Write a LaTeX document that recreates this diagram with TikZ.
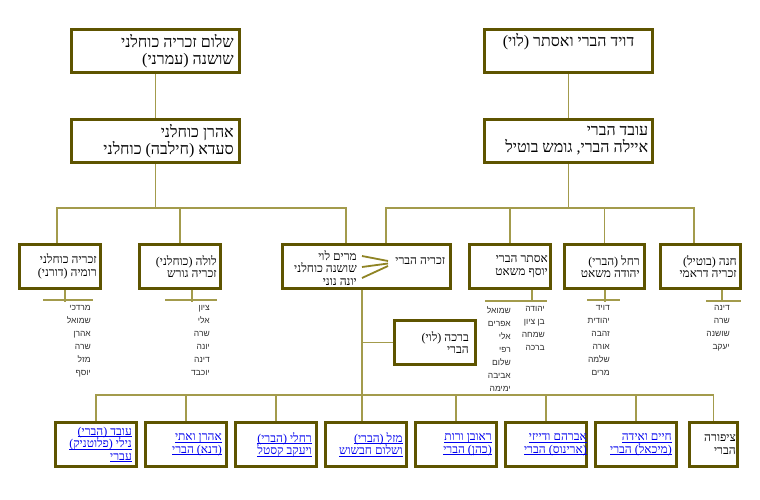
\documentclass[tikz,border=0pt]{standalone}
\usepackage{fontspec}
\newfontfamily\hebf[Script=Hebrew]{Liberation Serif}
\newfontfamily\hebs[Script=Hebrew]{Liberation Sans}
\TeXXeTstate=1
\usetikzlibrary{calc}
\definecolor{boxc}{HTML}{5E5400}
\definecolor{conc}{HTML}{A39B4C}
\definecolor{fanc}{HTML}{8F8424}
\definecolor{lnk}{HTML}{0000EE}
\definecolor{kidc}{HTML}{303030}
\newcommand{\heb}[1]{\beginR #1\endR}
\newcommand{\lk}[1]{\setbox0\hbox{\beginR #1\endR}\rlap{\rule[-1.8pt]{\wd0}{0.6pt}}\box0}
\begin{document}
\begin{tikzpicture}[x=1pt,y=-1pt,
  bx/.style 2 args={draw=boxc, line width=3pt, fill=white, inner sep=0pt, minimum width=#1, minimum height=#2},
  txt/.style={font=\hebf\fontsize{16}{17}\selectfont, align=right, inner sep=0pt, anchor=east},
  mid/.style={font=\hebf\fontsize{12}{12.5}\selectfont, align=right, inner sep=0pt, anchor=east},
  link/.style={mid, text=lnk},
  kids/.style={font=\hebs\fontsize{8.5}{13}\selectfont, text=kidc, align=right, inner sep=0pt, anchor=north east},
  con/.style={draw=conc, line width=1.6pt},
  fan/.style={draw=fanc, line width=1.8pt}]
\fill[white] (0,0) rectangle (760,500);
\useasboundingbox (0,0) rectangle (760,500);

% coordinates of buses
\coordinate (lb1) at (57,208);
\coordinate (lb2) at (346,208);
\coordinate (rb1) at (386,208);
\coordinate (rb2) at (694,208);
\coordinate (vb) at (362,395);
\coordinate (bb1) at (96,395);
\coordinate (bb2) at (713.5,395);

% top generation boxes
\node[bx={168pt}{43pt}] (A) at (155.5,51) {};
\node[bx={168pt}{43pt}] (B) at (568.5,51) {};
\node[bx={168pt}{43pt}] (C) at (155.5,141) {};
\node[bx={168pt}{43pt}] (D) at (568.5,141) {};

% third generation boxes
\node[bx={81pt}{44pt}] (E) at (60,266.5) {};
\node[bx={81pt}{44pt}] (F) at (180,266.5) {};
\node[bx={168pt}{44pt}] (G) at (366.5,266.5) {};
\node[bx={81pt}{44pt}] (H) at (510,266.5) {};
\node[bx={80pt}{44pt}] (I) at (604.5,266.5) {};
\node[bx={80pt}{44pt}] (J) at (700.5,266.5) {};
\node[bx={81pt}{44pt}] (K) at (435,342.5) {};

% bottom generation boxes
\node[bx={81pt}{44pt}] (L1) at (96,444.5) {};
\node[bx={81pt}{44pt}] (L2) at (186,444.5) {};
\node[bx={81pt}{44pt}] (L3) at (276,444.5) {};
\node[bx={81pt}{44pt}] (L4) at (366,444.5) {};
\node[bx={81pt}{44pt}] (L5) at (456,444.5) {};
\node[bx={81pt}{44pt}] (L6) at (546,444.5) {};
\node[bx={81pt}{44pt}] (L7) at (636,444.5) {};
\node[bx={48pt}{44pt}] (L8) at (713.5,444.5) {};

% connectors
\draw[con] (A.south) -- (C.north);
\draw[con] (B.south) -- (D.north);
\draw[con] (C.south) -- (C.south |- lb1);
\draw[con] (E.north -| lb1) -- (lb1) -- (lb2) -- (G.north -| lb2);
\draw[con] (F.north) -- (F.north |- lb1);
\draw[con] (D.south) -- (D.south |- rb1);
\draw[con] (G.north -| rb1) -- (rb1) -- (rb2) -- (J.north -| rb2);
\draw[con] (H.north) -- (H.north |- rb1);
\draw[con] (I.north) -- (I.north |- rb1);
\draw[con] (G.south -| vb) -- (L4.north -| vb);
\draw[con] (K.west) -- (K.west -| vb);
\draw[con] (L1.north) -- (bb1) -- (bb2) -- (L8.north);
\foreach \n in {L2,L3,L5,L6,L7} \draw[con] (\n.north) -- (\n.north |- bb1);

% children-list stubs
\draw[con] ($(E.south)+(5,0)$) -- ($(E.south)+(5,11.5)$);
\draw[con] (43,300) -- (93,300);
\draw[con] ($(F.south)+(12,0)$) -- ($(F.south)+(12,11.5)$);
\draw[con] (165,300) -- (217,300);
\draw[con] ($(H.south)+(22,0)$) -- ($(H.south)+(22,12)$);
\draw[con] (485,301) -- (547,301);
\draw[con] ($(I.south)+(0.5,0)$) -- ($(I.south)+(0.5,11.5)$);
\draw[con] (587,300) -- (620,300);
\draw[con] ($(J.south)+(21.5,0)$) -- ($(J.south)+(21.5,12)$);
\draw[con] (706,301) -- (741,301);

% texts
\node[txt, xshift=-7pt] (At) at (A.east) {\heb{שלום זכריה כוחלני}\\\heb{שושנה (עמרני)}};
\node[txt, anchor=base] (Bt) at ($(B.north)+(0,18.5)$) {\heb{דויד הברי ואסתר (לוי)}};
\node[txt, xshift=-7pt] (Ct) at (C.east) {\heb{אהרן כוחלני}\\\heb{סעדא (חילבה) כוחלני}};
\node[txt, xshift=-5.5pt] (Dt) at (D.east) {\heb{עובד הברי}\\\heb{איילה הברי\kern0pt, גומש בוטיל}};

\node[mid, xshift=-5pt] (Et) at (E.east) {\heb{זכריה כוחלני}\\\heb{רומיה (דורני)}};
\node[mid, xshift=-5pt] (Ft) at (F.east) {\heb{לולה (כוחלני)}\\\heb{זכריה גורש}};
\node[mid, anchor=base east] (Gt) at ($(G.east)+(-6.5,-2.5)$) {\heb{זכריה הברי}};
\node[mid] (Gw) at (357,268) {\heb{מרים לוי}\\\heb{שושנה כוחלני}\\\heb{יונה נוני}};
\node[mid, xshift=-4pt] (Ht) at (H.east) {\heb{אסתר הברי}\\\heb{יוסף משאט}};
\node[mid, xshift=-6pt] (It) at (I.east) {\heb{רחל (הברי)}\\\heb{יהודה משאט}};
\node[mid, xshift=-5pt] (Jt) at (J.east) {\heb{חנה (בוטיל)}\\\heb{זכריה דראמי}};
\node[mid, xshift=-8pt] (Kt) at (K.east) {\heb{ברכה (לוי)}\\\heb{הברי}};

% fan lines
\draw[fan] (362,256) -- (388,261);
\draw[fan] (362,267) -- (388,263.5);
\draw[fan] (362,278) -- (388,266);

% children lists
\node[kids] (kE) at (91,305) {\heb{מרדכי}\\\heb{שמואל}\\\heb{אהרן}\\\heb{שרה}\\\heb{מזל}\\\heb{יוסף}};
\node[kids] (kF) at (210,305) {\heb{ציון}\\\heb{אלי}\\\heb{שרה}\\\heb{יונה}\\\heb{דינה}\\\heb{יוכבד}};
\node[kids] (kH1) at (545,306) {\heb{יהודה}\\\heb{בן ציון}\\\heb{שמחה}\\\heb{ברכה}};
\node[kids] (kH2) at (511,306) {\heb{שמואל}\\\heb{אפרים}\\\heb{אלי}\\\heb{רפי}\\\heb{שלום}\\\heb{אביבה}\\\heb{ימימה}};
\node[kids] (kI) at (610,305) {\heb{דויד}\\\heb{יהודית}\\\heb{זהבה}\\\heb{אורה}\\\heb{שלמה}\\\heb{מרים}};
\node[kids] (kJ) at (730,305) {\heb{דינה}\\\heb{שרה}\\\heb{שושנה}\\\heb{יעקב}};

% bottom texts
\node[link, xshift=-6pt] (L1t) at (L1.east) {\lk{עובד (הברי)}\\\lk{נילי (פלוטניק)}\\\lk{עברי}};
\node[link, xshift=-6pt] (L2t) at (L2.east) {\lk{אהרן ואתי}\\\lk{(דנא) הברי}};
\node[link, xshift=-6pt] (L3t) at (L3.east) {\lk{רחלי (הברי)}\\\lk{ויעקב קסטל}};
\node[link, xshift=-5pt] (L4t) at (L4.east) {\lk{מזל (הברי)}\\\lk{ושלום חבשוש}};
\node[link, xshift=-6pt] (L5t) at (L5.east) {\lk{ראובן ורות}\\\lk{(כהן) הברי}};
\node[link, xshift=-1pt] (L6t) at (L6.east) {\lk{אברהם ודייזי}\\\lk{(ארינוס) הברי}};
\node[link, xshift=-6pt] (L7t) at (L7.east) {\lk{חיים ואידה}\\\lk{(מיכאל) הברי}};
\node[mid, xshift=-3pt] (L8t) at (L8.east) {\heb{ציפורה}\\\heb{הברי}};
\end{tikzpicture}
\end{document}
